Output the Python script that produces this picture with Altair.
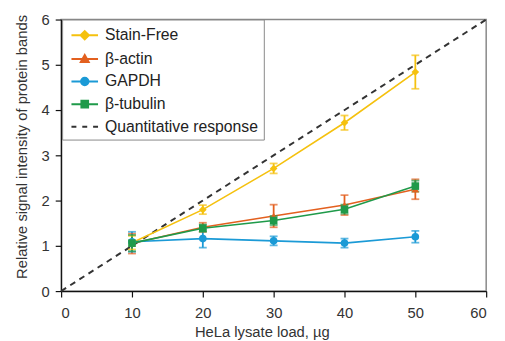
import altair as alt
import pandas as pd

loads = [10, 20, 30, 40, 50]
series = ["Stain-Free", "β-actin", "GAPDH", "β-tubulin"]
values = {
    "Stain-Free": [1.07, 1.80, 2.71, 3.72, 4.84],
    "β-actin":    [1.05, 1.41, 1.66, 1.90, 2.25],
    "GAPDH":      [1.09, 1.16, 1.11, 1.06, 1.20],
    "β-tubulin":  [1.06, 1.39, 1.56, 1.81, 2.32],
}
errors = {
    "Stain-Free": [0.15, 0.10, 0.11, 0.16, 0.37],
    "β-actin":    [0.22, 0.10, 0.25, 0.22, 0.22],
    "GAPDH":      [0.22, 0.20, 0.10, 0.10, 0.13],
    "β-tubulin":  [0.18, 0.08, 0.10, 0.10, 0.12],
}
ref_x = [0, 60]
ref_y = [0, 6]
ref_name = "Quantitative response"

colors = ["#f5c10e", "#e3601f", "#1b9ad6", "#1f9a4a", "#333333"]
legend_domain = series + [ref_name]

rows = []
for s in series:
    for x, v, e in zip(loads, values[s], errors[s]):
        rows.append({"series": s, "load": x, "value": v, "lo": v - e, "hi": v + e})
df = pd.DataFrame(rows)
ref_df = pd.DataFrame({"load": ref_x, "value": ref_y})
leg_df = pd.DataFrame({"series": legend_domain, "load": [10] * 5, "value": [1] * 5})

xs = alt.Scale(domain=[0, 60], nice=False)
ys = alt.Scale(domain=[0, 6], nice=False)
col = alt.Color("series:N", scale=alt.Scale(domain=legend_domain, range=colors), legend=None)

X = alt.X("load:Q", scale=xs, axis=alt.Axis(values=[0, 10, 20, 30, 40, 50, 60], title="HeLa lysate load, µg",
                                            titleX=204, titleAlign="center"))
Y = alt.Y("value:Q", scale=ys, axis=alt.Axis(values=[0, 1, 2, 3, 4, 5, 6], title="Relative signal intensity of protein bands",
                                            titleY=129, titleAlign="center"))

ref = alt.Chart(ref_df).mark_line(strokeDash=[6, 5], strokeWidth=2, color="#333333").encode(x=X, y=Y)

lines = alt.Chart(df).mark_line(strokeWidth=1.6).encode(x=X, y=Y, color=col, detail="series:N")
bars = alt.Chart(df).mark_rule(strokeWidth=1.8).encode(x="load:Q", y="lo:Q", y2="hi:Q", color=col)
cap_hi = alt.Chart(df).mark_tick(orient="horizontal", size=8, thickness=1.8).encode(x="load:Q", y="hi:Q", color=col)
cap_lo = alt.Chart(df).mark_tick(orient="horizontal", size=8, thickness=1.8).encode(x="load:Q", y="lo:Q", color=col)

pt_shape = alt.Shape("series:N", scale=alt.Scale(domain=series, range=["diamond", "triangle-up", "circle", "square"]), legend=None)
points = alt.Chart(df).mark_point(filled=True, size=60, opacity=1).encode(x="load:Q", y="value:Q", color=col, shape=pt_shape)

leg_paths = [
    "M-1.35,0H1.35M-0.42,0L0,-0.42L0.42,0L0,0.42Z",
    "M-1.35,0H1.35M-0.4,0.32L0,-0.4L0.4,0.32Z",
    "M-1.35,0H1.35M0.38,0A0.38,0.38 0 1,1 -0.38,0A0.38,0.38 0 1,1 0.38,0Z",
    "M-1.35,0H1.35M-0.34,-0.34H0.34V0.34H-0.34Z",
    "M-1.35,0H-0.85M-0.25,0H0.25M0.85,0H1.35",
]
leg_scale_c = alt.Scale(domain=legend_domain, range=colors)
legend = alt.Legend(
    title=None, orient="none", legendX=1, legendY=0,
    symbolSize=400, symbolStrokeWidth=2, symbolOpacity=1,
    labelFontSize=16, labelFont="Liberation Sans", labelColor="#222222",
    rowPadding=4, padding=5, labelOffset=9.5, symbolOffset=7,
    strokeColor="#888888", fillColor="white",
)
leg_layer = alt.Chart(leg_df).mark_point(filled=False, opacity=0).encode(
    x="load:Q", y="value:Q",
    color=alt.Color("series:N", scale=leg_scale_c, legend=legend),
    fill=alt.Fill("series:N", scale=leg_scale_c, legend=legend),
    shape=alt.Shape("series:N", scale=alt.Scale(domain=legend_domain, range=leg_paths), legend=legend),
)

chart = alt.layer(ref, lines, bars, cap_hi, cap_lo, points, leg_layer).resolve_scale(
    color="independent", fill="independent", shape="independent"
).properties(
    width=432, height=276,
    autosize=alt.AutoSizeParams(type="none"),
    padding={"left": 54, "top": 9, "right": 11, "bottom": 48},
).configure_view(stroke="#888888", strokeWidth=1.5).configure_axis(
    grid=False, domainColor="#111111", domainWidth=1.2, tickColor="#111111", tickSize=6, tickWidth=1.2,
    labelFont="Liberation Sans", titleFont="Liberation Sans", labelFontSize=15, titleFontSize=15,
    titleFontWeight="normal", labelColor="#333333", titleColor="#333333",
).configure_axisY(labelPadding=6, titlePadding=12).configure_axisX(labelPadding=9, titlePadding=4)

chart.save("out.html", embed_options={"renderer": "svg", "actions": False})
